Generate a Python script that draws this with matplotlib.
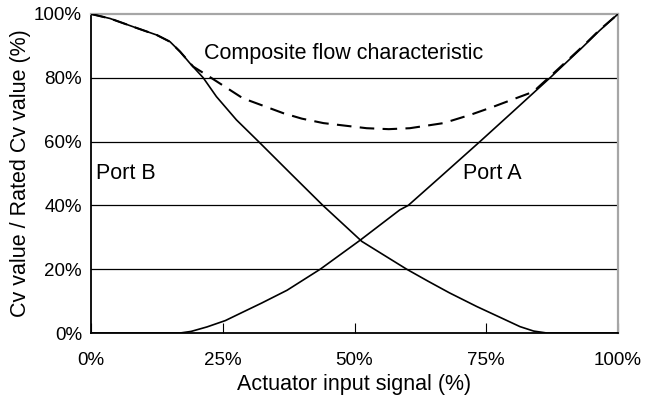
import matplotlib
matplotlib.use("Agg")
import matplotlib.pyplot as plt

plt.rcParams['font.family'] = ['Liberation Sans', 'DejaVu Sans']

# Port A (rising)
a_x = [0, 16.9, 19, 22, 25.5, 28, 32.4, 37.2, 43.5, 51, 58.6, 60.2, 66, 73.8, 80, 87.1, 93.4, 96.5, 100]
a_y = [0, 0, 0.5, 1.9, 3.9, 5.9, 9.4, 13.4, 20, 29, 38.6, 40, 48.5, 60, 69.3, 80, 89.8, 94.8, 100]

# Port B (falling)
b_x = [0, 3.6, 8, 12.5, 15, 16.9, 18.8, 21.3, 23.8, 27.6, 31.8, 38, 44, 51.4, 55.5, 59.9, 64, 68, 73.2, 77.5, 81.4, 84, 86.5, 100]
b_y = [100, 98.6, 96, 93.4, 91.3, 88.2, 84.5, 80, 74.1, 66.8, 60, 49.8, 40, 28.7, 24.5, 20, 16.2, 12.6, 8.3, 5, 2, 0.6, 0, 0]

# Composite flow characteristic
c_x = [0, 3.6, 8, 12.5, 15, 16.9, 19.4, 22.6, 28.8, 36.5, 40, 44.1, 52.3, 56.5, 60.5, 66.9, 72, 76.3, 80, 83.9, 87.1, 93.4, 96.5, 100]
c_y = [100, 98.6, 96, 93.4, 91.3, 88.2, 83.5, 80.2, 73.6, 68.9, 67.2, 65.8, 64.2, 63.9, 64.2, 65.8, 68.4, 70.9, 73.2, 75.6, 80.4, 90, 95, 100]

x_ticks = [0, 25, 50, 75, 100]
x_labels = ['0%', '25%', '50%', '75%', '100%']
y_ticks = [0, 20, 40, 60, 80, 100]
y_labels = ['0%', '20%', '40%', '60%', '80%', '100%']

fig = plt.figure(figsize=(6.48, 4.05), dpi=100)
ax = fig.add_axes([91/648, 1 - 333/405, 527/648, 319/405])

for y in [20, 40, 60, 80]:
    ax.axhline(y, color='black', lw=0.9, zorder=1)

ax.plot(a_x, a_y, color='black', lw=1.2, zorder=3, solid_joinstyle='round')
ax.plot(b_x, b_y, color='black', lw=1.2, zorder=3, solid_joinstyle='round')
ax.plot(c_x, c_y, color='black', lw=1.5, ls=(0, (7, 4)), zorder=4)

ax.set_xlim(0, 100)
ax.set_ylim(0, 100)
ax.set_xticks(x_ticks, x_labels)
ax.set_yticks(y_ticks, y_labels)
ax.tick_params(axis='x', direction='in', length=7, width=0.8, pad=14, labelsize=13.5)
ax.tick_params(axis='y', length=0, pad=6.5, labelsize=13.5)

for s in ['top', 'right']:
    ax.spines[s].set_color('#a6a6a6')
    ax.spines[s].set_linewidth(1.6)
for s in ['left', 'bottom']:
    ax.spines[s].set_color('black')
    ax.spines[s].set_linewidth(1.3)

ax.text(21.5, 87.5, 'Composite flow characteristic', fontsize=15.5, va='center', ha='left')
ax.text(1, 50, 'Port B', fontsize=15.5, va='center', ha='left')
ax.text(70.5, 50, 'Port A', fontsize=15.5, va='center', ha='left')

ax.set_xlabel('Actuator input signal (%)', fontsize=15.5, labelpad=3)
ax.set_ylabel('Cv value / Rated Cv value (%)', fontsize=15.5, labelpad=2)

fig.savefig('out.png', dpi=100)
